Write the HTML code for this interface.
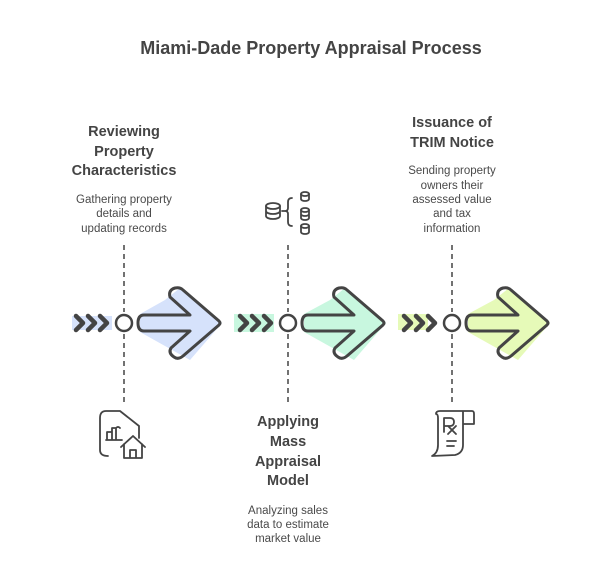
<!DOCTYPE html>
<html><head><meta charset="utf-8"><style>
html,body{margin:0;padding:0;background:#fff;}
svg{display:block;}
.t{font-family:"Liberation Sans",sans-serif;font-weight:bold;fill:#444;text-anchor:middle;}
.d{font-family:"Liberation Sans",sans-serif;fill:#4a4a4a;text-anchor:middle;font-size:11.5px;}
</style></head><body>
<svg width="602" height="566" viewBox="0 0 602 566" xmlns="http://www.w3.org/2000/svg">
<text class="t" x="311" y="54" font-size="18">Miami-Dade Property Appraisal Process</text>

<text class="t" x="124" y="136" font-size="14.5">Reviewing</text>
<text class="t" x="124" y="156" font-size="14.5">Property</text>
<text class="t" x="124" y="175" font-size="14.5">Characteristics</text>
<text class="d" x="124" y="203">Gathering property</text>
<text class="d" x="124" y="217">details and</text>
<text class="d" x="124" y="232">updating records</text>

<text class="t" x="452" y="127" font-size="14.5">Issuance of</text>
<text class="t" x="452" y="147" font-size="14.5">TRIM Notice</text>
<text class="d" x="452" y="174">Sending property</text>
<text class="d" x="452" y="189">owners their</text>
<text class="d" x="452" y="203">assessed value</text>
<text class="d" x="452" y="217">and tax</text>
<text class="d" x="452" y="232">information</text>

<text class="t" x="288" y="426" font-size="14.5">Applying</text>
<text class="t" x="288" y="446" font-size="14.5">Mass</text>
<text class="t" x="288" y="466" font-size="14.5">Appraisal</text>
<text class="t" x="288" y="485" font-size="14.5">Model</text>
<text class="d" x="288" y="514">Analyzing sales</text>
<text class="d" x="288" y="528">data to estimate</text>
<text class="d" x="288" y="542">market value</text>

<g stroke="#444" stroke-width="1.5" stroke-dasharray="5,4">
<line x1="124" y1="245" x2="124" y2="312"/><line x1="124" y1="334" x2="124" y2="405"/>
<line x1="288" y1="245" x2="288" y2="312"/><line x1="288" y1="334" x2="288" y2="405"/>
<line x1="452" y1="245" x2="452" y2="312"/><line x1="452" y1="334" x2="452" y2="405"/>
</g>

<!-- color blobs -->
<path d="M165 300 L180 288 L222 323 L190 360 L140 332 L140 314 Z" fill="#d6e2fb"/>
<rect x="72" y="316" width="40" height="14" fill="#d6e2fb"/>
<path d="M330 300 L345 288 L386 323 L354 360 L304 332 L304 314 Z" fill="#c8f7df"/>
<rect x="234" y="314" width="40" height="18" fill="#c8f7df"/>
<path d="M494 300 L509 288 L550 323 L518 360 L468 332 L468 314 Z" fill="#e6fab8"/>
<rect x="398" y="314" width="30" height="16" fill="#e6fab8"/>

<g fill="none" stroke="#444" stroke-width="3" stroke-linejoin="round" stroke-linecap="round">
<g id="a">
<circle cx="124" cy="323" r="8" fill="#fff" stroke-width="2.5"/>
<path d="M144 315 L190 315 L170 297 Q168 290 175 288 Q180 287 183 290 L219 321 Q221 323 219 325 L183 356 Q178 360 174 357 Q168 353 171 348 L190 331 L144 331 Q138 331 138 323 Q138 315 144 315 Z"/>
<path d="M76 316 L83 323 L76 330 M88 316 L95 323 L88 330 M100 316 L107 323 L100 330" stroke-width="4.5"/>
</g>
<use href="#a" x="164"/>
<use href="#a" x="328"/>
</g>

<!-- icons -->
<g fill="none" stroke="#444" stroke-width="1.8" stroke-linecap="round" stroke-linejoin="round">
<ellipse cx="273" cy="206" rx="7" ry="3"/><path d="M266 206 V216 A7 3 0 0 0 280 216 V206 M266 211 A7 3 0 0 0 280 211"/>
<path d="M292 198 Q288 198 288 202 V208 Q288 211 285 211 Q288 211 288 214 V222 Q288 226 292 226 M285 211 H282"/>
<ellipse cx="305" cy="194" rx="4" ry="2"/><path d="M301 194 V199 A4 2 0 0 0 309 199 V194"/>
<ellipse cx="305" cy="210" rx="4" ry="2"/><path d="M301 210 V218 A4 2 0 0 0 309 218 V210 M301 214 A4 2 0 0 0 309 214"/>
<ellipse cx="305" cy="226" rx="4" ry="2"/><path d="M301 226 V232 A4 2 0 0 0 309 232 V226"/>
<path d="M108 456 Q100 456 100 450 V418 Q100 411 106 411 H120 L139 426 V438"/>
<path d="M107 439 V432 H112 V439 M112 437 V428 H116 V439 M106 440 H122 M116 428 Q118 426 120 428"/>
<path d="M121 447 L133 436 L145 447 M124 444 V458 H142 V444 M130 458 V450 H136 V458"/>
<path d="M436 414 Q436 411 440 411 H472 Q474 411 474 414 V424 H463 M463 411 V445 Q463 453 455 455 L432 456 Q438 453 438 445 V418 Q438 414 436 414"/>
<path d="M444 432 V418 H450 Q454 418 454 422 Q454 426 450 426 H444 M448 426 L456 434 M456 426 L448 434 M447 441 H456 M447 446 H454"/>
</g>
</svg>
</body></html>
